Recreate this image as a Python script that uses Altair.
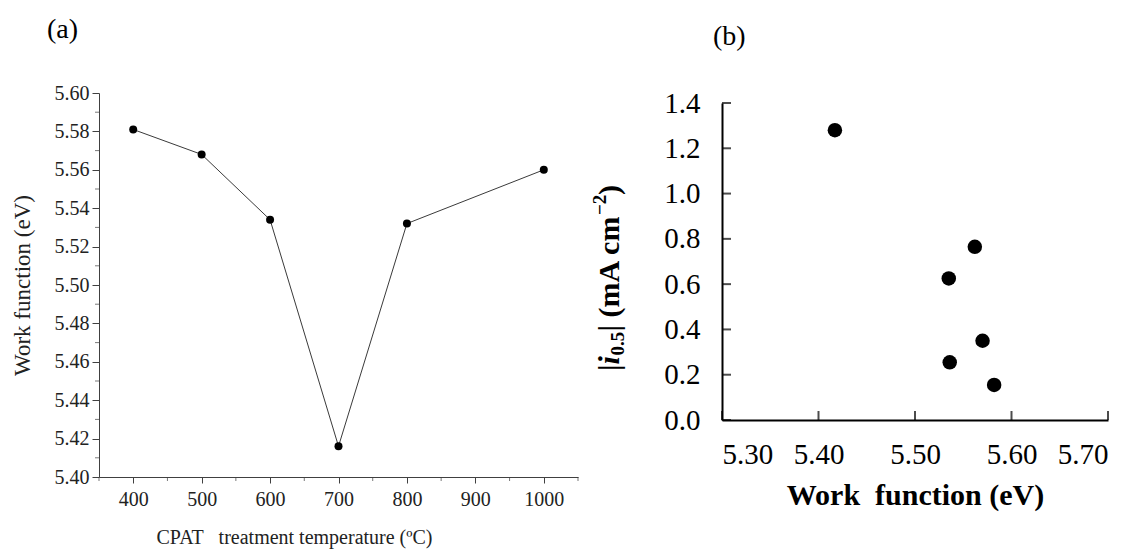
import altair as alt
import pandas as pd

# ---- data ----
temps = [400, 500, 600, 700, 800, 1000]
work_fn = [5.581, 5.568, 5.534, 5.416, 5.532, 5.560]

wf_b = [5.417, 5.562, 5.535, 5.570, 5.536, 5.582]
i05 = [1.28, 0.765, 0.625, 0.35, 0.255, 0.155]

a_x_major = [400, 500, 600, 700, 800, 900, 1000]
a_x_minor = [350, 450, 550, 650, 750, 850, 950, 1050]
a_y_major = [5.40, 5.42, 5.44, 5.46, 5.48, 5.50, 5.52, 5.54, 5.56, 5.58, 5.60]
a_y_minor = [5.41, 5.43, 5.45, 5.47, 5.49, 5.51, 5.53, 5.55, 5.57, 5.59]

b_x_ticks = [5.30, 5.40, 5.50, 5.60, 5.70]
b_y_ticks = [0.0, 0.2, 0.4, 0.6, 0.8, 1.0, 1.2, 1.4]

SERIF = "Liberation Serif"
AX_A = "#404040"

df_a = pd.DataFrame({"T": temps, "WF": work_fn})
df_b = pd.DataFrame({"WF": wf_b, "I": i05})

# ---------------- panel (a) ----------------
xa = alt.Scale(domain=[350, 1050], nice=False, zero=False)
ya = alt.Scale(domain=[5.40, 5.60], nice=False, zero=False)

axis_xa = alt.Axis(values=a_x_major, format="d", grid=False, domainColor=AX_A,
                   tickColor=AX_A, tickSize=6, labelFont=SERIF, labelFontSize=20,
                   labelColor="#222", labelPadding=6, labelOverlap=False,
                   title="CPAT\u00a0\u00a0\u00a0treatment temperature (\u00baC)",
                   titleFont=SERIF, titleFontSize=20, titleFontWeight="normal",
                   titleColor="#222", titleX=195, titleY=66, titleAlign="center",
                   titleBaseline="alphabetic")
axis_ya = alt.Axis(values=a_y_major, format=".2f", grid=False, domainColor=AX_A,
                   tickColor=AX_A, tickSize=7, labelFont=SERIF, labelFontSize=20,
                   labelColor="#222", labelPadding=3, labelOverlap=False,
                   title="Work function (eV)", titleFont=SERIF, titleFontSize=23,
                   titleFontWeight="normal", titleColor="#222", titleX=-77,
                   titleY=192, titleAlign="center", titleBaseline="middle",
                   titleAngle=270)

base_a = alt.Chart(df_a)
line_a = base_a.mark_line(color="#3a3a3a", strokeWidth=1).encode(
    x=alt.X("T:Q", scale=xa, axis=axis_xa),
    y=alt.Y("WF:Q", scale=ya, axis=axis_ya),
)
pts_a = base_a.mark_circle(color="black", size=64, opacity=1).encode(
    x=alt.X("T:Q", scale=xa, axis=axis_xa),
    y=alt.Y("WF:Q", scale=ya, axis=axis_ya),
)
minor_x = alt.Chart(pd.DataFrame({"T": a_x_minor})).mark_tick(
    orient="vertical", size=4, thickness=1, color=AX_A, yOffset=2
).encode(x=alt.X("T:Q", scale=xa, axis=axis_xa),
         y=alt.YDatum(5.40, type="quantitative", scale=ya, axis=axis_ya))
minor_y = alt.Chart(pd.DataFrame({"WF": a_y_minor})).mark_tick(
    orient="horizontal", size=4, thickness=1, color=AX_A, xOffset=-2
).encode(y=alt.Y("WF:Q", scale=ya, axis=axis_ya),
         x=alt.XDatum(350, type="quantitative", scale=xa, axis=axis_xa))

panel_a = alt.layer(line_a, pts_a, minor_x, minor_y).properties(
    width=479, height=384,
    title=alt.TitleParams(text="(a)", font=SERIF, fontSize=28, fontWeight="normal",
                          color="black", anchor="start", frame="group", dx=-52,
                          offset=39),
)

# ---------------- panel (b) ----------------
# plot area is 327 px tall; the axis itself spans 10..327 px (1.4 at 10 px below top)
xb = alt.Scale(domain=[5.30, 5.70], nice=False, zero=False)
yb = alt.Scale(domain=[0, 1.4], nice=False, zero=False, range=[327, 10])

axis_xb = alt.Axis(values=b_x_ticks, format=".2f", grid=False, domainColor="black",
                   domainWidth=2, ticks=False, labelFont=SERIF, labelFontSize=29,
                   labelColor="black", labelPadding=20, labelOverlap=False,
                   title="Work\u00a0\u00a0function (eV)", titleFont=SERIF,
                   titleFontSize=30, titleFontWeight="bold", titleColor="black",
                   titlePadding=11)
axis_yb = alt.Axis(values=b_y_ticks, format=".1f", grid=False, domainColor="black",
                   domainWidth=2, ticks=False, labelFont=SERIF, labelFontSize=29,
                   labelColor="black", labelPadding=22, labelOverlap=False,
                   title=None)

base_b = alt.Chart(df_b)
pts_b = base_b.mark_circle(color="black", size=210, opacity=1).encode(
    x=alt.X("WF:Q", scale=xb, axis=axis_xb),
    y=alt.Y("I:Q", scale=yb, axis=axis_yb),
)
ticks_xb = alt.Chart(pd.DataFrame({"WF": b_x_ticks})).mark_tick(
    orient="vertical", size=9, thickness=2, color="black", yOffset=-4.5
).encode(x=alt.X("WF:Q", scale=xb, axis=axis_xb),
         y=alt.YDatum(0, type="quantitative", scale=yb, axis=axis_yb))
ticks_yb = alt.Chart(pd.DataFrame({"I": b_y_ticks})).mark_tick(
    orient="horizontal", size=9, thickness=2, color="black", xOffset=4.5
).encode(y=alt.Y("I:Q", scale=yb, axis=axis_yb),
         x=alt.XDatum(5.30, type="quantitative", scale=xb, axis=axis_xb))

# y-axis title of panel (b), built from pieces (rotated text)
one = pd.DataFrame({"k": [0]})
TX, TY = -112, 278
F, FS = 30, 19
pieces = [
    ("|", F, "normal", 0, 0),
    ("i", F, "italic", 6.6, 0),
    ("0.5", FS, "normal", 15.5, 8),
    ("| (mA cm", F, "normal", 39.5, 0),
    ("\u22122", FS, "normal", 156.0, -10),
    (")", F, "normal", 176.0, 0),
]
title_layers = []
for txt, fs, style, dx, dy in pieces:
    title_layers.append(
        alt.Chart(one).mark_text(
            text=txt, font=SERIF, fontSize=fs, fontWeight="bold", fontStyle=style,
            angle=270, align="left", baseline="middle", dx=dx, dy=dy, color="black"
        ).encode(x=alt.value(TX), y=alt.value(TY))
    )

panel_b = alt.layer(pts_b, ticks_xb, ticks_yb, *title_layers).properties(
    width=386, height=327,
    title=alt.TitleParams(text="(b)", font=SERIF, fontSize=28,
                          fontWeight="normal", color="black", anchor="start",
                          frame="group", dx=-9, offset=38),
)

chart = alt.hconcat(panel_a, panel_b, spacing=12).properties(
    padding={"left": 11, "top": 16, "right": 2, "bottom": 2}
).configure(font=SERIF, view=alt.ViewConfig(stroke=None))

chart.save("out.html", embed_options={"renderer": "svg", "actions": False})
